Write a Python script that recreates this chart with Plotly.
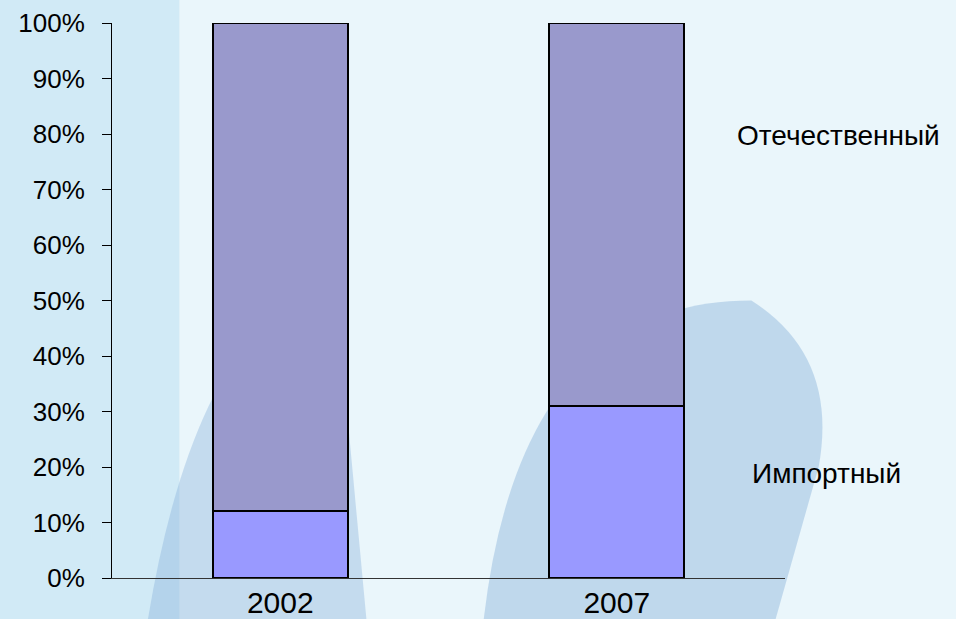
import plotly.graph_objects as go

years = ["2002", "2007"]
import_share = [12, 31]
domestic_share = [88, 69]
series_names = ["Импортный", "Отечественный"]
tick_vals = [0, 10, 20, 30, 40, 50, 60, 70, 80, 90, 100]
tick_text = [f"{v}%" for v in tick_vals]

fig = go.Figure()
fig.add_trace(go.Bar(x=years, y=import_share, name=series_names[0],
                     marker=dict(color="#9999FF", line=dict(color="black", width=2))))
fig.add_trace(go.Bar(x=years, y=domestic_share, name=series_names[1],
                     marker=dict(color="#9999CC", line=dict(color="black", width=2))))

# soft background streaks imitating the photo background
bg_shapes = [
    dict(type="rect", xref="paper", yref="paper", x0=-0.2, x1=0.1, y0=-0.1, y1=1.05,
         fillcolor="#bfe3f3", opacity=0.6, line_width=0, layer="below"),
    dict(type="path", xref="paper", yref="paper",
         path="M 0.05 -0.1 Q 0.12 0.45 0.33 0.55 L 0.38 -0.1 Z",
         fillcolor="#7fa8d8", opacity=0.35, line_width=0, layer="below"),
    dict(type="path", xref="paper", yref="paper",
         path="M 0.55 -0.1 Q 0.6 0.5 0.95 0.5 Q 1.08 0.4 1.05 0.2 L 0.98 -0.1 Z",
         fillcolor="#6fa0d0", opacity=0.35, line_width=0, layer="below"),
]

fig.update_layout(
    barmode="stack",
    bargap=0.6,
    width=956, height=619,
    margin=dict(l=112, r=171, t=23, b=41, autoexpand=False),
    paper_bgcolor="#eaf6fb",
    plot_bgcolor="rgba(0,0,0,0)",
    showlegend=False,
    font=dict(family="Liberation Sans, Arial, sans-serif", color="black"),
    shapes=bg_shapes,
    annotations=[
        dict(text=series_names[1], xref="paper", yref="paper", x=1.079, y=0.797,
             xanchor="center", yanchor="middle", showarrow=False, font=dict(size=28)),
        dict(text=series_names[0], xref="paper", yref="paper", x=1.062, y=0.189,
             xanchor="center", yanchor="middle", showarrow=False, font=dict(size=28)),
    ],
)
fig.update_yaxes(range=[0, 100], tickvals=tick_vals, ticktext=tick_text,
                 showgrid=False, zeroline=False, showline=True, linecolor="black",
                 linewidth=1, ticks="outside", ticklen=9, tickcolor="black",
                 ticklabelstandoff=12, automargin=False,
                 tickfont=dict(size=26))
fig.update_xaxes(showgrid=False, showline=True, linecolor="#333333", linewidth=1,
                 ticks="", automargin=False, ticklabelstandoff=-2, tickfont=dict(size=30))

fig.write_html("out.html", config={"displayModeBar": False},
               post_script="document.body.style.margin='0';document.body.style.padding='0';")
